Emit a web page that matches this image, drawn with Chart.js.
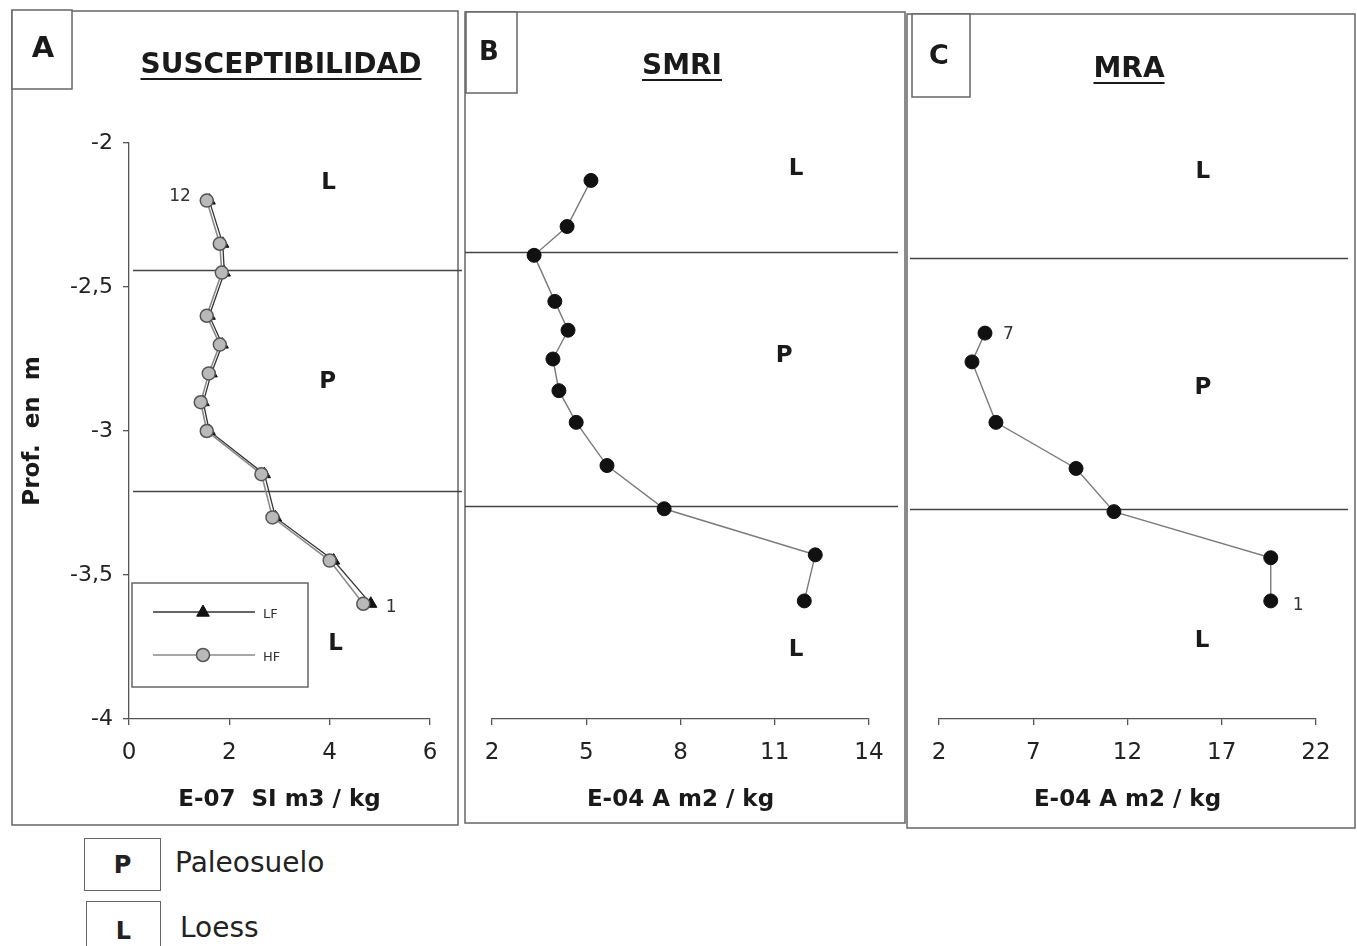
<!DOCTYPE html>
<html>
<head>
<meta charset="utf-8">
<script src="https://cdn.jsdelivr.net/npm/chart.js@4.4.1/dist/chart.umd.min.js"></script>
<style>
  body { margin: 0; background: #fff; width: 1357px; height: 946px; overflow: hidden; position: relative; font-family: "DejaVu Sans", sans-serif; color: #222; }
  canvas { position: absolute; top: 0; }
  .key { position: absolute; border: 1.5px solid #666; box-sizing: border-box; font-weight: bold; font-size: 24px; display: flex; align-items: center; justify-content: center; }
  .keytxt { position: absolute; font-size: 28px; line-height: 30px; }
</style>
</head>
<body>
<canvas id="chartA" width="462" height="830" style="left:0px"></canvas>
<canvas id="chartB" width="444" height="830" style="left:462px"></canvas>
<canvas id="chartC" width="451" height="830" style="left:906px"></canvas>

<div class="key" style="left:84px;top:838px;width:77px;height:53px;">P</div>
<div class="keytxt" style="left:175px;top:848px;">Paleosuelo</div>
<div class="key" style="left:86px;top:901px;width:75px;height:60px;">L</div>
<div class="keytxt" style="left:180px;top:913px;">Loess</div>

<script>
// depth (m) and values
const depthA = [-2.2, -2.35, -2.45, -2.6, -2.7, -2.8, -2.9, -3.0, -3.15, -3.3, -3.45, -3.6];
const suscHF = [1.55, 1.81, 1.85, 1.55, 1.81, 1.59, 1.43, 1.55, 2.64, 2.86, 4.0, 4.67];
const suscLF = [1.6, 1.87, 1.9, 1.6, 1.86, 1.64, 1.48, 1.6, 2.7, 2.92, 4.08, 4.82];

const depthB = [-2.13, -2.29, -2.39, -2.55, -2.65, -2.75, -2.86, -2.97, -3.12, -3.27, -3.43, -3.59];
const smri = [5.15, 4.39, 3.34, 4.0, 4.42, 3.94, 4.13, 4.68, 5.66, 7.48, 12.29, 11.94];

const depthC = [-2.66, -2.76, -2.97, -3.13, -3.28, -3.44, -3.59];
const mra = [4.44, 3.75, 5.02, 9.27, 11.28, 19.6, 19.6];

// paleosol limits (depth)
const limitsA = [-2.44, -3.21];
const limitsB = [-2.38, -3.26];
const limitsC = [-2.40, -3.27];

// zone labels (in data units)
const zonesA = [['L', 3.98, -2.14], ['P', 3.96, -2.83], ['L', 4.12, -3.74]];
const zonesB = [['L', 11.68, -2.09], ['P', 11.3, -2.74], ['L', 11.68, -3.76]];
const zonesC = [['L', 16.0, -2.1], ['P', 16.0, -2.85], ['L', 15.95, -3.73]];

const yMin = -4, yMax = -2, yStep = 0.5;

Chart.defaults.font.family = '"DejaVu Sans", sans-serif';
Chart.defaults.color = '#222';

function pts(xs, ys) {
  return xs.map((v, i) => ({ x: v, y: ys[i] }));
}

// panel frame, letter box, underlined title, limits, zone labels, point labels
function makeDeco(o) {
  return {
    id: 'deco',
    beforeDatasetsDraw(chart) {
      const ctx = chart.ctx, off = o.offset;
      const ys = chart.scales.y;
      ctx.save();
      ctx.strokeStyle = '#666';
      ctx.lineWidth = 1.5;
      const f = o.frame;
      ctx.strokeRect(f[0] - off, f[1], f[2] - f[0], f[3] - f[1]);
      const b = o.letterBox;
      ctx.fillStyle = '#fff';
      ctx.fillRect(b[0] - off, b[1], b[2] - b[0], b[3] - b[1]);
      ctx.strokeRect(b[0] - off, b[1], b[2] - b[0], b[3] - b[1]);
      ctx.strokeStyle = '#444';
      ctx.lineWidth = 1.6;
      o.limits.forEach(v => {
        const py = Math.round(ys.getPixelForValue(v)) + 0.5;
        ctx.beginPath();
        ctx.moveTo(o.limitX[0] - off, py);
        ctx.lineTo(o.limitX[1] - off, py);
        ctx.stroke();
      });
      ctx.restore();
    },
    afterDatasetsDraw(chart) {
      const ctx = chart.ctx, off = o.offset;
      const xs = chart.scales.x, ys = chart.scales.y;
      ctx.save();
      ctx.fillStyle = '#1a1a1a';
      ctx.textAlign = 'center';
      ctx.textBaseline = 'middle';
      ctx.font = 'bold ' + o.letterSize + 'px "DejaVu Sans"';
      ctx.fillText(o.letter, o.letterPos[0] - off, o.letterPos[1]);

      ctx.font = 'bold 28px "DejaVu Sans"';
      ctx.fillText(o.title, o.titlePos[0] - off, o.titlePos[1]);
      const w = ctx.measureText(o.title).width;
      ctx.strokeStyle = '#1a1a1a';
      ctx.lineWidth = 2;
      ctx.beginPath();
      ctx.moveTo(o.titlePos[0] - off - w / 2, o.titlePos[1] + 13);
      ctx.lineTo(o.titlePos[0] - off + w / 2, o.titlePos[1] + 13);
      ctx.stroke();

      ctx.font = 'bold 23px "DejaVu Sans"';
      o.zones.forEach(z => {
        ctx.fillText(z[0], xs.getPixelForValue(z[1]), ys.getPixelForValue(z[2]));
      });

      ctx.font = '17px "DejaVu Sans"';
      ctx.fillStyle = '#333';
      o.pointLabels.forEach(p => {
        const el = chart.getDatasetMeta(p.ds).data[p.i];
        ctx.textAlign = p.dx < 0 ? 'right' : 'left';
        ctx.fillText(p.text, el.x + p.dx, el.y + p.dy);
      });

      if (o.legend) {
        const L = o.legend;
        ctx.strokeStyle = '#666';
        ctx.lineWidth = 1.5;
        ctx.strokeRect(L.box[0] - off, L.box[1], L.box[2] - L.box[0], L.box[3] - L.box[1]);
        L.rows.forEach(r => {
          const ds = chart.data.datasets[r.ds];
          const mx = L.mark - off;
          ctx.strokeStyle = ds.borderColor;
          ctx.lineWidth = ds.borderWidth;
          ctx.beginPath();
          ctx.moveTo(L.line[0] - off, r.y);
          ctx.lineTo(L.line[1] - off, r.y);
          ctx.stroke();
          ctx.fillStyle = ds.pointBackgroundColor;
          ctx.strokeStyle = ds.pointBorderColor;
          ctx.lineWidth = ds.pointBorderWidth || 1;
          ctx.beginPath();
          if (ds.pointStyle === 'triangle') {
            const rr = ds.pointRadius;
            ctx.moveTo(mx, r.y - rr);
            ctx.lineTo(mx + rr * 0.9, r.y + rr * 0.6);
            ctx.lineTo(mx - rr * 0.9, r.y + rr * 0.6);
            ctx.closePath();
          } else {
            ctx.arc(mx, r.y, ds.pointRadius, 0, Math.PI * 2);
          }
          ctx.fill();
          ctx.stroke();
          ctx.fillStyle = '#333';
          ctx.font = '13px "DejaVu Sans"';
          ctx.textAlign = 'left';
          ctx.fillText(ds.label, L.text - off, r.y + 3);
        });
      }
      ctx.restore();
    }
  };
}

function xScale(min, max, step, title) {
  return {
    type: 'linear', position: 'bottom', min: min, max: max,
    ticks: { stepSize: step, color: '#222', font: { size: 23 }, padding: 14 },
    grid: { drawOnChartArea: false, tickLength: 6, color: '#555', lineWidth: 1.3 },
    border: { color: '#555', width: 1.3 },
    title: { display: true, text: title, color: '#1a1a1a', font: { size: 23, weight: 'bold' }, padding: { bottom: 16 } },
    afterFit(s) { s.height = 111; }
  };
}

function baseOptions(pad, xs, ys) {
  return {
    responsive: false,
    devicePixelRatio: 1,
    animation: false,
    events: [],
    layout: { padding: pad },
    plugins: { legend: { display: false }, tooltip: { enabled: false } },
    scales: { x: xs, y: ys }
  };
}

const yHidden = { type: 'linear', min: yMin, max: yMax, display: false };

// A: susceptibility
new Chart(document.getElementById('chartA'), {
  type: 'scatter',
  data: {
    datasets: [
      {
        label: 'HF', data: pts(suscHF, depthA), showLine: true,
        borderColor: '#8a8a8a', borderWidth: 1.6,
        pointStyle: 'circle', pointRadius: 6.5,
        pointBackgroundColor: '#b9b9b9', pointBorderColor: '#555', pointBorderWidth: 1.5
      },
      {
        label: 'LF', data: pts(suscLF, depthA), showLine: true,
        borderColor: '#333', borderWidth: 1.3,
        pointStyle: 'triangle', pointRadius: 7,
        pointBackgroundColor: '#111', pointBorderColor: '#111', pointBorderWidth: 1
      }
    ]
  },
  options: baseOptions(
    { left: 10, right: 32, top: 143, bottom: 0 },
    xScale(0, 6, 2, 'E-07  SI m3 / kg'),
    {
      type: 'linear', min: yMin, max: yMax,
      ticks: { stepSize: yStep, color: '#222', font: { size: 22 }, padding: 10,
        callback: v => String(v).replace('.', ',') },
      grid: { drawOnChartArea: false, tickLength: 6, color: '#555', lineWidth: 1.3 },
      border: { color: '#555', width: 1.3 },
      title: { display: true, text: 'Prof.  en  m', color: '#1a1a1a', font: { size: 23, weight: 'bold' }, padding: { top: 9 } },
      afterFit(s) { s.width = 119; }
    }
  ),
  plugins: [makeDeco({
    offset: 0,
    frame: [12, 11, 458, 825],
    letterBox: [12, 10, 72, 89], letter: 'A', letterSize: 29, letterPos: [43, 49],
    title: 'SUSCEPTIBILIDAD', titlePos: [281, 66],
    limits: limitsA, limitX: [133, 462],
    zones: zonesA,
    pointLabels: [{ ds: 0, i: 0, text: '12', dx: -16, dy: -4 }, { ds: 1, i: 11, text: '1', dx: 15, dy: 4 }],
    legend: { box: [132, 583, 308, 687], line: [153, 255], mark: 203, text: 263,
      rows: [{ ds: 1, y: 612 }, { ds: 0, y: 655 }] }
  })]
});

// B: SMRI
new Chart(document.getElementById('chartB'), {
  type: 'scatter',
  data: {
    datasets: [{
      label: 'SMRI', data: pts(smri, depthB), showLine: true,
      borderColor: '#7a7a7a', borderWidth: 1.4,
      pointStyle: 'circle', pointRadius: 7,
      pointBackgroundColor: '#111', pointBorderColor: '#111', pointBorderWidth: 1
    }]
  },
  options: baseOptions(
    { left: 30, right: 37, top: 143, bottom: 0 },
    xScale(2, 14, 3, 'E-04 A m2 / kg'),
    yHidden
  ),
  plugins: [makeDeco({
    offset: 462,
    frame: [465, 12, 905, 823],
    letterBox: [466, 12, 517, 93], letter: 'B', letterSize: 26, letterPos: [489, 53],
    title: 'SMRI', titlePos: [682, 67],
    limits: limitsB, limitX: [465, 898],
    zones: zonesB,
    pointLabels: []
  })]
});

// C: MRA
new Chart(document.getElementById('chartC'), {
  type: 'scatter',
  data: {
    datasets: [{
      label: 'MRA', data: pts(mra, depthC), showLine: true,
      borderColor: '#7a7a7a', borderWidth: 1.4,
      pointStyle: 'circle', pointRadius: 7,
      pointBackgroundColor: '#111', pointBorderColor: '#111', pointBorderWidth: 1
    }]
  },
  options: baseOptions(
    { left: 33, right: 41, top: 143, bottom: 0 },
    xScale(2, 22, 5, 'E-04 A m2 / kg'),
    yHidden
  ),
  plugins: [makeDeco({
    offset: 906,
    frame: [907, 14, 1355, 828],
    letterBox: [912, 14, 970, 97], letter: 'C', letterSize: 27, letterPos: [939, 57],
    title: 'MRA', titlePos: [1129, 70],
    limits: limitsC, limitX: [910, 1348],
    zones: zonesC,
    pointLabels: [{ ds: 0, i: 0, text: '7', dx: 18, dy: 1 }, { ds: 0, i: 6, text: '1', dx: 22, dy: 5 }]
  })]
});
</script>
</body>
</html>
